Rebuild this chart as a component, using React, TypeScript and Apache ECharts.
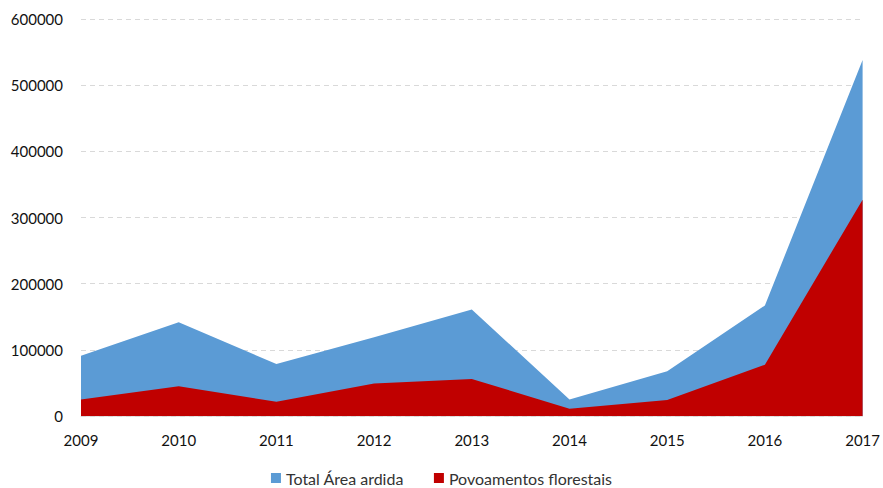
import React, { useEffect, useRef } from "react";
import * as echarts from "echarts";

const years = ["2009", "2010", "2011", "2012", "2013", "2014", "2015", "2016", "2017"];
const totalArea = [91000, 141500, 78500, 119000, 161000, 25000, 67500, 167000, 538000];
const povoamentos = [25000, 45000, 21600, 49000, 56000, 11000, 24000, 77500, 327000];
const seriesNames = ["Total Área ardida", "Povoamentos florestais"];

export default function App() {
  const ref = useRef<HTMLDivElement>(null);
  useEffect(() => {
    const chart = echarts.init(ref.current!, undefined, { renderer: "svg" });
    const font = "Lato, 'Open Sans', sans-serif";
    chart.setOption({
      animation: false,
      grid: { left: 81, right: 20, top: 19, bottom: 72 },
      legend: {
        top: 465,
        left: "center",
        itemWidth: 10,
        itemHeight: 10,
        itemGap: 30,
        icon: "rect",
        textStyle: { fontFamily: font, fontSize: 16, color: "#333" },
        data: seriesNames,
      },
      xAxis: {
        type: "category",
        data: years,
        boundaryGap: false,
        z: 5,
        axisLine: { lineStyle: { color: "rgba(217,217,217,0.7)", width: 1 } },
        axisTick: { show: false },
        axisLabel: { fontFamily: font, fontSize: 15, color: "#111", margin: 16 },
      },
      yAxis: {
        type: "value",
        min: 0,
        max: 600000,
        interval: 100000,
        axisLine: { show: false },
        axisTick: { show: false },
        axisLabel: {
          fontFamily: font,
          fontSize: 15,
          color: "#111",
          margin: 18,
          formatter: (v: number) => String(v),
        },
        splitLine: { lineStyle: { color: "#d9d9d9", type: [5, 4], width: 1 } },
      },
      series: [
        {
          name: seriesNames[0],
          type: "line",
          data: totalArea,
          symbol: "none",
          lineStyle: { width: 0 },
          itemStyle: { color: "#5b9bd5" },
          areaStyle: { color: "#5b9bd5", opacity: 1 },
        },
        {
          name: seriesNames[1],
          type: "line",
          data: povoamentos,
          symbol: "none",
          lineStyle: { width: 0 },
          itemStyle: { color: "#c00000" },
          areaStyle: { color: "#c00000", opacity: 1 },
        },
      ],
    });
    return () => chart.dispose();
  }, []);
  return <div ref={ref} style={{ width: 883, height: 488, position: "absolute", left: 0, top: 0 }} />;
}
